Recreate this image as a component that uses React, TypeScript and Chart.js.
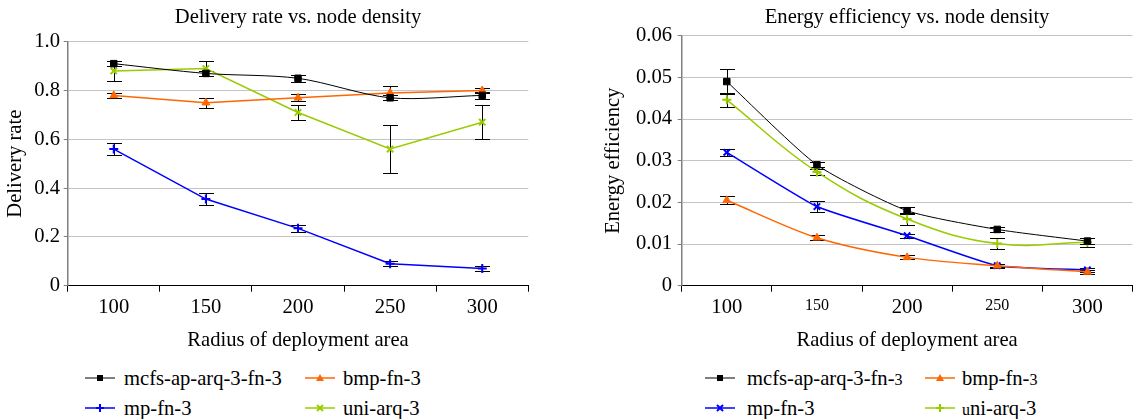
import React, { useEffect, useRef } from 'react';
import { Chart, registerables } from 'chart.js';

Chart.register(...registerables);

const FONT = '"Liberation Serif", Times, serif';
const FS = 20.6;

// ---- data ----
const categories = ['100', '150', '200', '250', '300'];
const seriesNames = ['mcfs-ap-arq-3-fn-3', 'bmp-fn-3', 'mp-fn-3', 'uni-arq-3'];
const seriesColors = ['#000000', '#FF6600', '#0000FF', '#99CC00'];

// Delivery rate (left)
const mcfsDelivery = [0.91, 0.87, 0.85, 0.77, 0.78];
const mcfsDeliveryErr = [0.01, 0.01, 0.015, 0.01, 0.015];
const bmpDelivery = [0.78, 0.75, 0.77, 0.79, 0.8];
const bmpDeliveryErr = [0.01, 0.02, 0.015, 0.03, 0.01];
const mpDelivery = [0.56, 0.355, 0.235, 0.09, 0.07];
const mpDeliveryErr = [0.025, 0.025, 0.015, 0.01, 0.01];
const uniDelivery = [0.88, 0.89, 0.71, 0.56, 0.67];
const uniDeliveryErr = [0.04, 0.03, 0.03, 0.1, 0.07];

// Energy efficiency (right)
const mcfsEnergy = [0.049, 0.029, 0.018, 0.0135, 0.0107];
const mcfsEnergyErr = [0.003, 0.0006, 0.0009, 0.0006, 0.0008];
const bmpEnergy = [0.0205, 0.0115, 0.0068, 0.0048, 0.0033];
const bmpEnergyErr = [0.001, 0.0006, 0.0005, 0.0004, 0.0004];
const mpEnergy = [0.032, 0.019, 0.012, 0.0048, 0.0038];
const mpEnergyErr = [0.0009, 0.0014, 0.0005, 0.0005, 0.0005];
const uniEnergy = [0.0446, 0.0273, 0.016, 0.0101, 0.0104];
const uniEnergyErr = [0.0016, 0.0007, 0.0015, 0.0014, 0.001];

const deliveryTicks = [0, 0.2, 0.4, 0.6, 0.8, 1.0];
const energyTicks = [0, 0.01, 0.02, 0.03, 0.04, 0.05, 0.06];

const errorBarPlugin = {
  id: 'errorBars',
  beforeDatasetsDraw(chart: any) {
    const ctx = chart.ctx;
    const yScale = chart.scales.y;
    const cap = 7.5;
    chart.data.datasets.forEach((ds: any, di: number) => {
      const errs = ds.errors;
      if (!errs) return;
      const meta = chart.getDatasetMeta(di);
      meta.data.forEach((pt: any, i: number) => {
        const v = ds.data[i];
        const e = errs[i];
        const x = Math.round(pt.x) + 0.5;
        const yT = Math.round(yScale.getPixelForValue(v + e)) + 0.5;
        const yB = Math.round(yScale.getPixelForValue(v - e)) + 0.5;
        ctx.save();
        ctx.strokeStyle = '#000';
        ctx.lineWidth = 1;
        ctx.beginPath();
        ctx.moveTo(x, yT);
        ctx.lineTo(x, yB);
        ctx.moveTo(x - cap, yT);
        ctx.lineTo(x + cap, yT);
        ctx.moveTo(x - cap, yB);
        ctx.lineTo(x + cap, yB);
        ctx.stroke();
        ctx.restore();
      });
    });
  },
};

// Title centred over the plot area (not over the whole canvas)
const centeredTitlePlugin = {
  id: 'centeredTitle',
  afterDraw(chart: any, _args: any, opts: any) {
    if (!opts || !opts.text) return;
    const { ctx, chartArea } = chart;
    ctx.save();
    ctx.font = `normal ${FS}px ${FONT}`;
    ctx.fillStyle = '#000';
    ctx.textAlign = 'center';
    ctx.textBaseline = 'middle';
    ctx.fillText(opts.text, (chartArea.left + chartArea.right) / 2, opts.y);
    ctx.restore();
  },
};

type PanelCfg = {
  title: string;
  yTitle: string;
  ticks: number[];
  decimals: number;
  datasets: any[];
  padLeft: number;
  padRight: number;
  padTop: number;
  yWidth: number;
  yTickPadding: number;
  smallTickIdx: number[];
};

function buildConfig(p: PanelCfg): any {
  const yMin = p.ticks[0];
  const yMax = p.ticks[p.ticks.length - 1];
  const step = p.ticks[1] - p.ticks[0];
  return {
    type: 'line',
    data: { labels: categories, datasets: p.datasets },
    plugins: [errorBarPlugin, centeredTitlePlugin],
    options: {
      responsive: false,
      animation: false,
      devicePixelRatio: 1,
      layout: { padding: { left: p.padLeft, right: p.padRight, top: p.padTop, bottom: 7 } },
      plugins: {
        legend: { display: false },
        tooltip: { enabled: false },
        title: { display: false },
        centeredTitle: { text: p.title, y: 17.5 },
      },
      scales: {
        x: {
          type: 'category',
          offset: true,
          afterFit: (s: any) => {
            s.height = 67.3;
          },
          grid: {
            display: true,
            offset: true,
            drawOnChartArea: false,
            drawTicks: true,
            tickLength: 6,
            color: '#000',
            tickColor: '#000',
          },
          border: { display: true, color: '#000', width: 1 },
          ticks: {
            color: '#000',
            padding: 4,
            maxRotation: 0,
            autoSkip: false,
            font: (ctx: any) => ({
              family: FONT,
              size: p.smallTickIdx.includes(ctx.index) ? 16 : FS,
            }),
          },
          title: {
            display: true,
            text: 'Radius of deployment area',
            color: '#000',
            font: { family: FONT, size: FS },
            padding: { top: 0, bottom: 0 },
          },
        },
        y: {
          min: yMin,
          max: yMax,
          afterFit: (s: any) => {
            s.width = p.yWidth;
          },
          afterBuildTicks: (s: any) => {
            s.ticks = p.ticks.map((v) => ({ value: v }));
          },
          ticks: {
            stepSize: step,
            color: '#000',
            padding: p.yTickPadding,
            font: { family: FONT, size: FS },
            callback: (v: any) => (Number(v) === 0 ? '0' : Number(v).toFixed(p.decimals)),
          },
          grid: {
            color: '#c4c4c4',
            lineWidth: 1,
            drawTicks: true,
            tickLength: 4,
            tickColor: '#7f7f7f',
          },
          border: { display: true, color: '#7f7f7f', width: 1.5 },
          title: {
            display: true,
            text: p.yTitle,
            color: '#000',
            font: { family: FONT, size: FS },
            padding: { top: 3, bottom: 0 },
          },
        },
      },
    },
  };
}

function makeDataset(label: string, color: string, data: number[], errors: number[], pointStyle: string, tension: number, width = 1.5) {
  return {
    label,
    data,
    errors,
    borderColor: color,
    backgroundColor: color,
    borderWidth: width,
    pointStyle,
    pointRadius: pointStyle === 'rect' ? 4.6 : 4.5,
    pointBorderWidth: pointStyle === 'cross' || pointStyle === 'crossRot' ? 2 : 1,
    pointBorderColor: color,
    pointBackgroundColor: color,
    tension,
    fill: false,
  };
}

function ChartPanel({ cfg, left, width, height }: { cfg: any; left: number; width: number; height: number }) {
  const ref = useRef<HTMLCanvasElement | null>(null);
  useEffect(() => {
    if (!ref.current) return;
    const chart = new Chart(ref.current, cfg);
    return () => chart.destroy();
  }, [cfg]);
  return (
    <canvas
      ref={ref}
      width={width}
      height={height}
      style={{ position: 'absolute', left, top: 0, width, height }}
    />
  );
}

function Marker({ color, shape, lineWidth }: { color: string; shape: string; lineWidth: number }) {
  return (
    <svg width={30} height={12} style={{ display: 'block' }}>
      <line x1={0} y1={6} x2={30} y2={6} stroke={color} strokeWidth={lineWidth} />
      {shape === 'rect' && <rect x={12} y={3} width={6} height={6} fill={color} />}
      {shape === 'triangle' && <polygon points="15,2 19,9 11,9" fill={color} />}
      {shape === 'cross' && <path d="M15,2 V10 M11,6 H19" stroke={color} strokeWidth={2} />}
      {shape === 'crossRot' && <path d="M12,3 L18,9 M18,3 L12,9" stroke={color} strokeWidth={2} />}
    </svg>
  );
}

function LegendItem({ x, y, textX, color, shape, children, lineWidth = 1.5 }: any) {
  return (
    <>
      <div style={{ position: 'absolute', left: x, top: y - 6 }}>
        <Marker color={color} shape={shape} lineWidth={lineWidth} />
      </div>
      <div
        style={{
          position: 'absolute',
          left: textX,
          top: y - 12,
          height: 24,
          lineHeight: '24px',
          fontFamily: FONT,
          fontSize: FS,
          color: '#000',
          whiteSpace: 'nowrap',
        }}
      >
        {children}
      </div>
    </>
  );
}

const leftCfg = buildConfig({
  title: 'Delivery rate vs. node density',
  yTitle: 'Delivery rate',
  ticks: deliveryTicks,
  decimals: 1,
  padLeft: 0,
  padRight: 41.7,
  padTop: 41.7,
  yWidth: 67.7,
  yTickPadding: 3.7,
  smallTickIdx: [],
  datasets: [
    makeDataset(seriesNames[0], seriesColors[0], mcfsDelivery, mcfsDeliveryErr, 'rect', 0.3, 1),
    makeDataset(seriesNames[1], seriesColors[1], bmpDelivery, bmpDeliveryErr, 'triangle', 0),
    makeDataset(seriesNames[2], seriesColors[2], mpDelivery, mpDeliveryErr, 'cross', 0),
    makeDataset(seriesNames[3], seriesColors[3], uniDelivery, uniDeliveryErr, 'crossRot', 0),
  ],
});

const rightCfg = buildConfig({
  title: 'Energy efficiency vs. node density',
  yTitle: 'Energy efficiency',
  ticks: energyTicks,
  decimals: 2,
  padLeft: 28,
  padRight: 3.8,
  padTop: 35.7,
  yWidth: 83.7,
  yTickPadding: 5.7,
  smallTickIdx: [1, 3],
  datasets: [
    makeDataset(seriesNames[0], seriesColors[0], mcfsEnergy, mcfsEnergyErr, 'rect', 0.2, 1),
    makeDataset(seriesNames[1], seriesColors[1], bmpEnergy, bmpEnergyErr, 'triangle', 0.3),
    makeDataset(seriesNames[2], seriesColors[2], mpEnergy, mpEnergyErr, 'crossRot', 0.15),
    makeDataset(seriesNames[3], seriesColors[3], uniEnergy, uniEnergyErr, 'cross', 0.4),
  ],
});

export default function App() {
  const small = { fontSize: 16 };
  return (
    <div
      style={{
        position: 'fixed',
        left: 0,
        top: 0,
        width: 1139,
        height: 419,
        background: '#fff',
        overflow: 'hidden',
      }}
    >
      <ChartPanel cfg={leftCfg} left={0} width={570} height={360} />
      <ChartPanel cfg={rightCfg} left={570} width={569} height={360} />

      {/* left legend */}
      <LegendItem x={85} y={378} textX={124} color={seriesColors[0]} shape="rect" lineWidth={1}>
        {seriesNames[0]}
      </LegendItem>
      <LegendItem x={305} y={378} textX={343} color={seriesColors[1]} shape="triangle">
        {seriesNames[1]}
      </LegendItem>
      <LegendItem x={85} y={408} textX={124} color={seriesColors[2]} shape="cross">
        {seriesNames[2]}
      </LegendItem>
      <LegendItem x={305} y={408} textX={343} color={seriesColors[3]} shape="crossRot">
        {seriesNames[3]}
      </LegendItem>

      {/* right legend */}
      <LegendItem x={705} y={378} textX={747} color={seriesColors[0]} shape="rect" lineWidth={1}>
        mcfs-ap-arq-3-fn-<span style={small}>3</span>
      </LegendItem>
      <LegendItem x={925} y={378} textX={962} color={seriesColors[1]} shape="triangle">
        bmp-fn-<span style={small}>3</span>
      </LegendItem>
      <LegendItem x={705} y={408} textX={747} color={seriesColors[2]} shape="crossRot">
        mp-fn-3
      </LegendItem>
      <LegendItem x={925} y={408} textX={962} color={seriesColors[3]} shape="cross">
        <span style={small}>u</span>ni-arq-3
      </LegendItem>
    </div>
  );
}
